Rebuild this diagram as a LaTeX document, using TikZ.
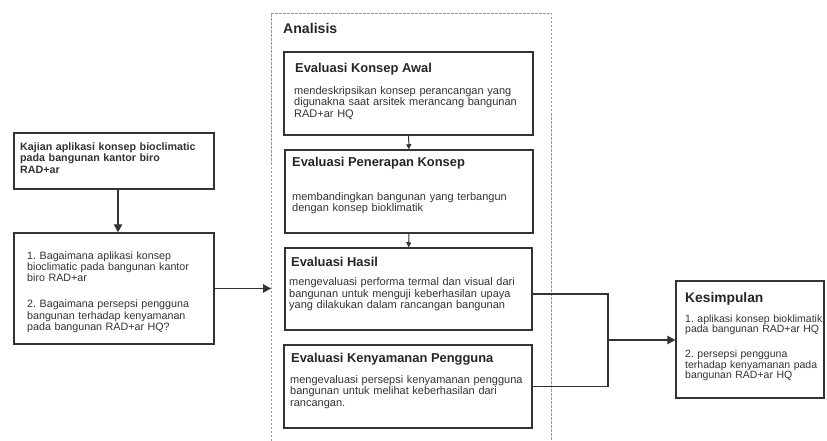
\documentclass[tikz,border=0pt]{standalone}
\usepackage{fontspec}
\setmainfont{Liberation Sans}
\usetikzlibrary{arrows.meta}
\frenchspacing

\begin{document}
\begin{tikzpicture}[
	x=1pt, y=-1pt,
	box/.style={ draw=black!80, line width=1.5pt, fill=white, inner sep=0pt },
	head/.style={ anchor=base west, inner sep=0pt, text=black!85, font=\fontsize{12.9}{15}\selectfont\bfseries },
	body/.style={ anchor=base west, inner sep=0pt, text=black!80, align=left, text width=#1, font=\fontsize{11}{11.5}\selectfont },
	body/.default=260pt,
	link/.style={ draw=black!80, line width=1.3pt },
	linkb/.style={ link, -{Triangle[length=8pt,width=8.5pt]} },
	links/.style={ link, line width=1pt, -{Triangle[length=5pt,width=5pt]} }
]
\useasboundingbox (0,0) rectangle (827,441);

% frame of the analysis part
\draw[black!40, line width=0.9pt, dash pattern=on 2.5pt off 1.5pt]
  (271,441) -- (271,13) -- (551,13) -- (551,441);
\node at (283,33.5) (analisis) [head, font=\fontsize{14.1}{16}\selectfont\bfseries] {Analisis};
\coordinate (frame-in) at (271,288.5);

% left column
\node at (114,161) (kajian) [box, minimum width=200pt, minimum height=56pt] {};
\node at (20,150.5) (kajian-t) [body=190pt, font=\fontsize{10.7}{11.3}\selectfont\bfseries]
  {Kajian aplikasi konsep bioclimatic\\ pada bangunan kantor biro\\ RAD+ar};
\node at (114,288.5) (masalah) [box, minimum width=200pt, minimum height=111pt] {};
\node at (27,259.5) (masalah-t) [body=185pt, font=\fontsize{10.7}{11.2}\selectfont]
  {1. Bagaimana aplikasi konsep\\ bioclimatic pada bangunan kantor\\ biro RAD+ar\\[14.8pt]
   2. Bagaimana persepsi pengguna\\ bangunan terhadap kenyamanan\\ pada bangunan RAD+ar HQ?};

% analysis steps
\node at (408.5,93.5) (awal) [box, minimum width=249pt, minimum height=83pt] {};
\node at (295,72.5) (awal-h) [head] {Evaluasi Konsep Awal};
\node at (294,94.5) (awal-t) [body]
  {mendeskripsikan konsep perancangan yang\\ digunakna saat arsitek merancang bangunan\\ RAD+ar HQ};
\node at (409,191.5) (penerapan) [box, minimum width=248pt, minimum height=83pt] {};
\node at (292,167) (penerapan-h) [head] {Evaluasi Penerapan Konsep};
\node at (292,200) (penerapan-t) [body]
  {membandingkan bangunan yang terbangun\\ dengan konsep bioklimatik};
\node at (408.5,289) (hasil) [box, minimum width=247pt, minimum height=82pt] {};
\node at (291,266) (hasil-h) [head] {Evaluasi Hasil};
\node at (289,285.5) (hasil-t) [body]
  {mengevaluasi performa termal dan visual dari\\ bangunan untuk menguji keberhasilan upaya\\ yang dilakukan dalam rancangan bangunan};
\node at (408,386.5) (kenyamanan) [box, minimum width=248pt, minimum height=83pt] {};
\node at (291,362) (kenyamanan-h) [head] {Evaluasi Kenyamanan Pengguna};
\node at (290,383) (kenyamanan-t) [body]
  {mengevaluasi persepsi kenyamanan pengguna\\ bangunan untuk melihat keberhasilan dari\\ rancangan.};

% conclusion
\node at (750,339.5) (kesimpulan) [box, minimum width=148pt, minimum height=117pt] {};
\node at (685,302.5) (kesimpulan-h) [head, font=\fontsize{13.8}{16}\selectfont\bfseries] {Kesimpulan};
\node at (685,322) (kesimpulan-t) [body=145pt, font=\fontsize{10.5}{10.6}\selectfont]
  {1. aplikasi konsep bioklimatik\\ pada bangunan RAD+ar HQ\\[14.5pt]
   2. persepsi pengguna\\ terhadap kenyamanan pada\\ bangunan RAD+ar HQ};
\coordinate (join) at (608,340);

\draw[linkb] ([xshift=4pt]kajian.south) -- ([xshift=4pt]masalah.north);
\draw[linkb] (masalah.east) -- (frame-in);
\draw[links] (awal) -- (penerapan);
\draw[links] (penerapan) -- (hasil);
\draw[link] ([yshift=-5pt]hasil.east) -| (join) |- (kenyamanan.east);
\draw[linkb] (join) -- (join -| kesimpulan.west);

\end{tikzpicture}
\end{document}
